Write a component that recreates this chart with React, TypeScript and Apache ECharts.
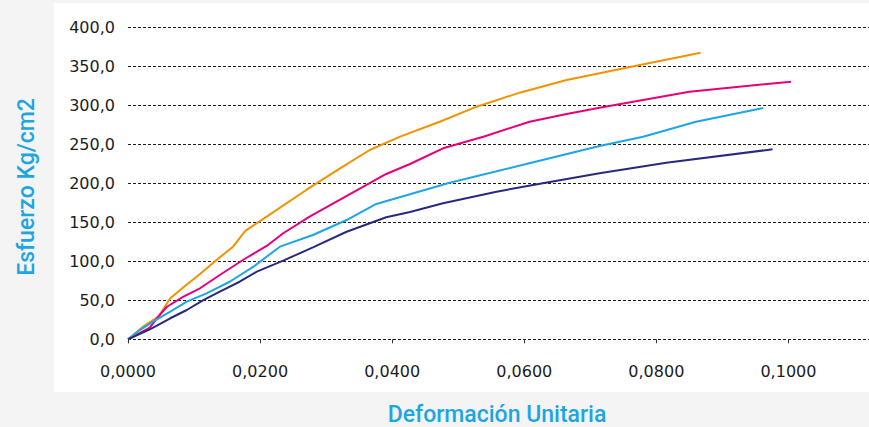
import React, { useEffect, useRef } from "react";
import * as echarts from "echarts";

const xTicks = [0, 0.02, 0.04, 0.06, 0.08, 0.1];

const orangeX = [0, 0.0024, 0.0046, 0.0064, 0.0084, 0.0109, 0.0134, 0.0159, 0.0178, 0.021, 0.027, 0.0321, 0.0366, 0.0412, 0.0472, 0.0528, 0.0593, 0.0664, 0.0714, 0.0775, 0.0867];
const orangeY = [0, 17, 29, 52.6, 66.8, 83.8, 101.8, 118.9, 139.4, 157.4, 191.7, 219.5, 243, 260.1, 279.3, 298.6, 316.6, 332.9, 341.5, 352.1, 367.9];

const magentaX = [0, 0.0033, 0.0044, 0.0059, 0.0084, 0.0109, 0.0139, 0.0174, 0.021, 0.0235, 0.0275, 0.0336, 0.0391, 0.0427, 0.0477, 0.0538, 0.0608, 0.0664, 0.0714, 0.085, 0.1004];
const magentaY = [0, 14.9, 27.3, 41.8, 54.7, 65.5, 82.5, 101.8, 119.8, 136.1, 157.4, 186.5, 212.2, 225, 245.2, 260.1, 279.3, 289.2, 297.3, 317.8, 330.7];

const cyanX = [0, 0.0018, 0.0038, 0.0064, 0.0089, 0.0119, 0.0154, 0.019, 0.023, 0.028, 0.0331, 0.0376, 0.0427, 0.0487, 0.0603, 0.0714, 0.078, 0.086, 0.0962];
const cyanY = [0, 11.9, 22.6, 35.4, 48.3, 59, 73.9, 93.2, 118.9, 133.9, 153.1, 173.7, 186.1, 201, 225, 248.1, 260.1, 279.3, 296.9];

const navyX = [0, 0.0033, 0.0043, 0.0064, 0.0089, 0.0114, 0.0139, 0.0169, 0.0195, 0.0235, 0.028, 0.0331, 0.0391, 0.0427, 0.0477, 0.0558, 0.0628, 0.0714, 0.0815, 0.0976];
const navyY = [0, 12.8, 17.1, 27, 37.6, 50.4, 61.1, 73.9, 86.8, 100.9, 118.1, 138.1, 156.6, 163.4, 174.6, 189.5, 200.3, 213.1, 226.7, 243.9];

const zip = (xs: number[], ys: number[]) => xs.map((x, i) => [x, ys[i]]);

const seriesDefs = [
  { name: "Serie 1", xs: orangeX, ys: orangeY, color: "#f39200" },
  { name: "Serie 2", xs: magentaX, ys: magentaY, color: "#e5007d" },
  { name: "Serie 3", xs: cyanX, ys: cyanY, color: "#1ea5e3" },
  { name: "Serie 4", xs: navyX, ys: navyY, color: "#29297f" },
];

const labelFont = "DejaVu Sans";
const titleFont = "Roboto";

export default function App() {
  const ref = useRef<HTMLDivElement>(null);
  useEffect(() => {
    document.body.style.margin = "0";
    const chart = echarts.init(ref.current!, null, { renderer: "svg" });
    chart.setOption({
      animation: false,
      backgroundColor: "#f4f4f4",
      graphic: [
        {
          type: "rect",
          z: -100,
          silent: true,
          shape: { x: 54, y: 3, width: 815, height: 389 },
          style: { fill: "#ffffff" },
        },
        {
          type: "text",
          x: 497,
          y: 414,
          style: {
            text: "Deformación Unitaria",
            fill: "#1ea5e3",
            font: `500 23px ${titleFont}`,
            align: "center",
            verticalAlign: "middle",
          },
        },
        {
          type: "text",
          x: 26,
          y: 187,
          rotation: Math.PI / 2,
          style: {
            text: "Esfuerzo Kg/cm2",
            fill: "#1ea5e3",
            font: `500 23px ${titleFont}`,
            align: "center",
            verticalAlign: "middle",
          },
        },
      ],
      grid: { left: 128, right: 0, top: 27.7, bottom: 87.7, containLabel: false },
      xAxis: {
        type: "value",
        min: 0,
        max: 0.1122,
        interval: 0.02,
        offset: 5,
        axisLine: { show: false },
        axisTick: {
          show: true,
          length: 4,
          lineStyle: { color: "#333", width: 1 },
          customValues: xTicks,
        },
        axisLabel: {
          customValues: xTicks,
          margin: 19,
          color: "#1d1d1b",
          fontFamily: labelFont,
          fontSize: 16,
          formatter: (v: number) => v.toFixed(4).replace(".", ","),
        },
        splitLine: { show: false },
      },
      yAxis: {
        type: "value",
        min: 0,
        max: 400,
        interval: 50,
        axisLine: { show: false },
        axisTick: { show: false },
        axisLabel: {
          margin: 13,
          color: "#1d1d1b",
          fontFamily: labelFont,
          fontSize: 16,
          formatter: (v: number) => v.toFixed(1).replace(".", ","),
        },
        splitLine: {
          show: true,
          lineStyle: { color: "#1d1d1b", width: 1, type: [3, 2] },
        },
      },
      series: seriesDefs.map((s) => ({
        name: s.name,
        type: "line",
        data: zip(s.xs, s.ys),
        showSymbol: false,
        symbol: "none",
        lineStyle: { color: s.color, width: 2 },
        itemStyle: { color: s.color },
      })),
    });
    return () => chart.dispose();
  }, []);
  return (
    <div
      ref={ref}
      style={{ position: "fixed", left: 0, top: 0, width: 869, height: 427 }}
    />
  );
}
